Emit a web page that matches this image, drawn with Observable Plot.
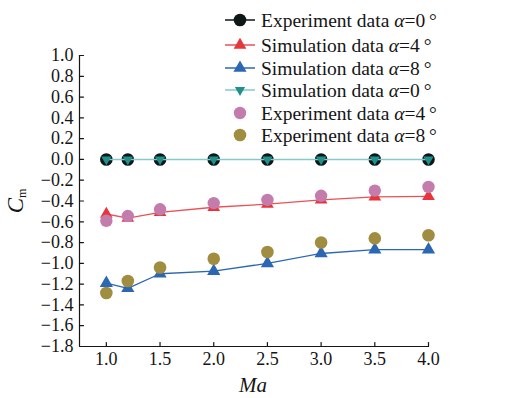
<!DOCTYPE html>
<html><head><meta charset="utf-8">
<script src="https://cdn.jsdelivr.net/npm/d3@7"></script>
<script src="https://cdn.jsdelivr.net/npm/@observablehq/plot@0.6"></script>
<style>
body{margin:0;background:#fff;}
#chart{position:relative;width:530px;height:398px;}
</style></head><body><div id="chart"></div>
<script>
// ---- data ----
const mach = [1.0, 1.2, 1.5, 2.0, 2.5, 3.0, 3.5, 4.0];
const expA0 = [0, 0, 0, 0, 0, 0, 0, 0];
const simA0 = [0, 0, 0, 0, 0, 0, 0, 0];
const simA4 = [-0.525, -0.565, -0.51, -0.46, -0.43, -0.39, -0.36, -0.355];
const simA8 = [-1.19, -1.24, -1.10, -1.075, -1.0, -0.905, -0.868, -0.868];
const expA4 = [-0.59, -0.545, -0.48, -0.42, -0.39, -0.35, -0.30, -0.265];
const expA8 = [-1.285, -1.17, -1.04, -0.955, -0.89, -0.80, -0.76, -0.73];
const xTicks = [1.0, 1.5, 2.0, 2.5, 3.0, 3.5, 4.0];
const yTicks = [1.0, 0.8, 0.6, 0.4, 0.2, 0.0, -0.2, -0.4, -0.6, -0.8, -1.0, -1.2, -1.4, -1.6, -1.8];
const xDomain = [0.75, 4.0];
const yDomain = [-1.8, 1.0];
const legendLabels = [
  ["Experiment data ", "0"],
  ["Simulation data ", "4"],
  ["Simulation data ", "8"],
  ["Simulation data ", "0"],
  ["Experiment data ", "4"],
  ["Experiment data ", "8"]
];

const C = {black:"#0e1616", red:"#e8343c", redLine:"#ec5056", blue:"#2b67b3", tealTri:"#1f918c", tealLine:"#86c9c9", pink:"#c47cad", olive:"#a08d40"};

const triDown = {
  draw(context, size) {
    const s3 = Math.sqrt(3);
    const y = -Math.sqrt(size / (s3 * 3));
    context.moveTo(0, -y * 2);
    context.lineTo(-s3 * y, y);
    context.lineTo(s3 * y, y);
    context.closePath();
  }
};
const tickShape = {draw(ctx, l) { ctx.moveTo(0, 0); ctx.lineTo(0, -l); }};

const rows = ys => mach.map((m, i) => ({x: m, y: ys[i]}));
const fmt = d3.format(".1f");
const ink = "#151515";

const plot = Plot.plot({
  width: 530, height: 398,
  marginLeft: 79, marginRight: 102, marginTop: 55, marginBottom: 52,
  style: {fontFamily: "'Liberation Serif', 'Times New Roman', serif", fontSize: "18px", background: "transparent", color: ink},
  x: {domain: xDomain},
  y: {domain: yDomain},
  marks: [
    Plot.axisX(xTicks, {tickSize: 0, tickPadding: 6, tickFormat: fmt, label: null, fontSize: 18}),
    Plot.axisY(yTicks, {tickSize: 0, tickPadding: 6, tickFormat: fmt, label: null, fontSize: 18}),
    Plot.vector(xTicks, {x: d => d, frameAnchor: "bottom", length: 4, rotate: 0, anchor: "start", shape: tickShape, stroke: ink, strokeWidth: 1.2}),
    Plot.vector(yTicks, {y: d => d, frameAnchor: "left", length: 4, rotate: 90, anchor: "start", shape: tickShape, stroke: ink, strokeWidth: 1.2}),
    Plot.ruleX([xDomain[0]], {y1: yDomain[0], y2: yDomain[1], stroke: ink, strokeWidth: 1.2}),
    Plot.ruleY([yDomain[0]], {x1: xDomain[0], x2: xDomain[1], stroke: ink, strokeWidth: 1.2}),
    // alpha = 0
    Plot.dot(rows(expA0), {x: "x", y: "y", r: 6.3, fill: C.black}),
    Plot.line(rows(simA0), {x: "x", y: "y", stroke: C.tealLine, strokeWidth: 1.5}),
    Plot.dot(rows(simA0), {x: "x", y: "y", r: 3.8, symbol: triDown, fill: C.tealTri}),
    // alpha = 4
    Plot.line(rows(simA4), {x: "x", y: "y", stroke: C.redLine, strokeWidth: 1.3}),
    Plot.dot(rows(simA4), {x: "x", y: "y", r: 4.7, symbol: "triangle", fill: C.red}),
    Plot.dot(rows(expA4), {x: "x", y: "y", r: 6.2, fill: C.pink}),
    // alpha = 8
    Plot.line(rows(simA8), {x: "x", y: "y", stroke: C.blue, strokeWidth: 1.3}),
    Plot.dot(rows(simA8), {x: "x", y: "y", r: 4.9, symbol: "triangle", fill: C.blue}),
    Plot.dot(rows(expA8), {x: "x", y: "y", r: 6.3, fill: C.olive})
  ]
});
document.getElementById("chart").appendChild(plot);

const svg = d3.select(plot);
const font = "'Liberation Serif', 'Times New Roman', serif";
// x-axis title
svg.append("text").attr("x", 253).attr("y", 392).attr("text-anchor", "middle")
  .attr("font-family", font).attr("font-size", 21).attr("font-style", "italic").attr("fill", ink).text("Ma");
// y-axis title
const yl = svg.append("text").attr("transform", "translate(23,201) rotate(-90)").attr("text-anchor", "middle")
  .attr("font-family", font).attr("font-size", 23).attr("fill", ink);
yl.append("tspan").attr("font-style", "italic").text("C");
yl.append("tspan").attr("font-size", 12).attr("dy", 3).text("m");

// legend
const legY = [20, 45, 68, 90, 113, 135];
const legSpec = [
  {line: C.black, sym: d3.symbolCircle, r: 6.3, fill: C.black},
  {line: C.redLine, sym: d3.symbolTriangle, r: 4.7, fill: C.red},
  {line: C.blue, sym: d3.symbolTriangle, r: 4.9, fill: C.blue},
  {line: C.tealLine, sym: triDown, r: 3.8, fill: C.tealTri},
  {line: null, sym: d3.symbolCircle, r: 6.2, fill: C.pink},
  {line: null, sym: d3.symbolCircle, r: 6.3, fill: C.olive}
];
const lg = svg.append("g").attr("text-anchor", "start");
legSpec.forEach((s, i) => {
  const y = legY[i];
  if (s.line) lg.append("line").attr("x1", 225).attr("x2", 255).attr("y1", y).attr("y2", y)
    .attr("stroke", s.line).attr("stroke-width", 1.5);
  lg.append("path").attr("transform", `translate(240,${y})`)
    .attr("d", d3.symbol(s.sym, Math.PI * s.r * s.r)()).attr("fill", s.fill);
  const t = lg.append("text").attr("x", 261).attr("y", y).attr("dy", "0.35em").attr("text-anchor", "start")
    .attr("font-family", font).attr("font-size", 19.5).attr("fill", ink);
  t.append("tspan").text(legendLabels[i][0]);
  t.append("tspan").attr("font-style", "italic").text("α");
  t.append("tspan").text("=" + legendLabels[i][1] + "\u2009°");
});
</script>
</body></html>
